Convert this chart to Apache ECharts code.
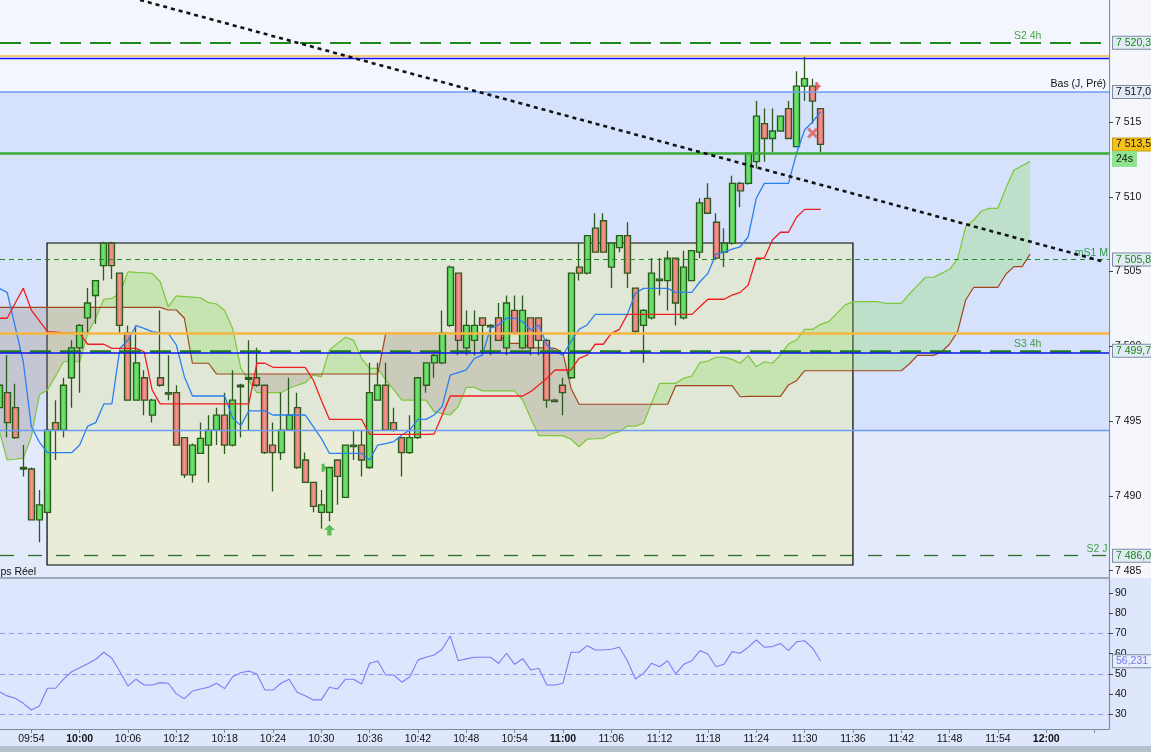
<!DOCTYPE html>
<html><head><meta charset="utf-8">
<script src="https://cdn.jsdelivr.net/npm/echarts@6/dist/echarts.min.js"></script>
<style>html,body{margin:0;padding:0;background:#dfe7fc;overflow:hidden}#c{width:1151px;height:752px}</style>
</head><body><div id="c"></div>
<script>
const FONT = '"Liberation Sans", Arial, sans-serif';
const FIRST_MINUTE = 590; // 09:50
// candles [open, high, low, close], one per minute from 09:50
const candles = [
[7495.9,7498.0,7495.5,7497.4],[7496.9,7499.4,7493.9,7494.9],[7495.9,7497.5,7493.8,7493.9],[7491.9,7493.4,7491.3,7491.8],
[7491.8,7491.9,7488.4,7488.4],[7488.4,7490.4,7486.9,7489.4],[7488.9,7494.5,7488.8,7494.4],[7494.9,7496.4,7492.4,7494.4],
[7494.4,7497.9,7493.9,7497.4],[7497.9,7500.4,7495.9,7499.9],[7499.9,7501.5,7496.9,7501.4],[7501.9,7503.9,7500.9,7502.9],
[7503.4,7504.4,7501.5,7504.4],[7505.4,7507.0,7504.4,7506.9],[7506.9,7507.0,7504.5,7505.4],[7504.9,7504.9,7500.9,7501.4],
[7500.9,7501.4,7496.4,7496.4],[7496.4,7501.4,7496.4,7498.9],[7497.9,7498.4,7495.4,7496.4],[7495.4,7496.5,7494.9,7496.4],
[7497.9,7502.4,7497.3,7497.4],[7496.9,7499.4,7496.4,7496.8],[7496.9,7497.4,7493.4,7493.4],[7493.9,7493.9,7491.2,7491.4],
[7491.4,7493.5,7490.9,7493.4],[7492.85,7494.9,7492.8,7493.85],[7493.4,7495.4,7490.9,7494.4],[7494.4,7495.9,7493.4,7495.4],
[7495.4,7496.9,7492.8,7493.4],[7493.4,7498.4,7493.3,7496.4],[7497.4,7497.5,7493.9,7497.3],[7497.9,7500.4,7494.4,7497.8],
[7497.9,7499.9,7497.3,7497.4],[7497.4,7497.4,7492.8,7492.9],[7493.4,7494.9,7490.3,7492.9],[7492.9,7496.9,7492.4,7494.4],
[7494.4,7497.9,7494.4,7495.4],[7495.9,7496.9,7491.8,7491.9],[7492.4,7492.9,7490.9,7490.9],[7490.9,7490.9,7488.9,7489.3],
[7488.9,7490.4,7487.8,7489.4],[7488.9,7491.9,7488.3,7491.9],[7492.4,7492.4,7489.4,7491.3],[7489.9,7493.4,7489.9,7493.4],
[7493.4,7494.4,7492.4,7493.3],[7493.4,7494.4,7491.3,7492.4],[7491.9,7498.9,7491.8,7496.9],[7496.4,7498.9,7496.4,7497.4],
[7497.4,7498.9,7494.4,7494.4],[7494.9,7495.9,7494.3,7494.4],[7493.9,7493.9,7491.3,7492.9],[7492.9,7495.4,7492.8,7493.9],
[7493.9,7497.9,7493.8,7497.9],[7497.4,7498.9,7496.9,7498.9],[7498.9,7499.5,7497.9,7499.4],[7498.9,7502.4,7498.8,7500.9],
[7501.4,7505.4,7501.3,7505.3],[7504.9,7504.9,7499.4,7500.4],[7499.9,7502.4,7499.4,7501.4],[7500.4,7502.4,7499.4,7501.4],
[7501.9,7501.9,7499.4,7501.4],[7501.4,7501.5,7499.4,7501.3],[7501.9,7502.9,7500.4,7500.4],[7499.9,7503.4,7499.4,7502.9],
[7502.4,7503.4,7500.8,7500.9],[7499.9,7503.4,7499.8,7502.4],[7501.9,7501.9,7499.4,7499.9],[7501.9,7501.9,7499.4,7500.4],
[7500.4,7500.5,7495.9,7496.4],[7496.4,7496.5,7496.3,7496.3],[7497.4,7497.9,7495.4,7496.9],[7497.9,7504.9,7497.8,7504.9],
[7505.3,7506.9,7504.4,7504.9],[7504.9,7507.4,7504.8,7507.4],[7507.9,7508.9,7506.3,7506.3],[7508.4,7508.9,7506.3,7506.3],
[7505.3,7506.9,7503.9,7506.9],[7506.6,7507.4,7506.3,7507.4],[7507.4,7508.3,7503.9,7504.9],[7503.9,7503.9,7500.9,7501.0],
[7501.4,7502.5,7498.9,7502.4],[7501.9,7505.9,7501.8,7504.9],[7504.4,7505.9,7503.4,7504.5],[7504.4,7506.4,7502.4,7505.9],
[7505.9,7505.9,7501.4,7502.9],[7501.9,7506.4,7501.8,7505.3],[7504.4,7506.4,7504.4,7506.4],[7506.3,7509.9,7505.9,7509.6],
[7509.9,7510.9,7508.9,7508.9],[7508.3,7508.9,7505.8,7505.9],[7506.3,7507.9,7505.3,7506.9],[7506.9,7511.4,7506.8,7510.9],
[7510.9,7511.0,7509.3,7510.4],[7510.9,7513.0,7510.8,7512.9],[7512.35,7516.4,7511.9,7515.4],[7514.9,7515.9,7512.35,7513.9],
[7513.9,7515.9,7513.0,7514.4],[7514.4,7515.4,7514.4,7515.4],[7515.9,7516.4,7513.9,7513.9],[7513.35,7518.4,7513.3,7517.4],
[7517.4,7519.4,7516.4,7517.9],[7517.4,7517.9,7514.9,7516.4],[7515.9,7515.9,7513.0,7513.5]
];
// Ichimoku lines, one value per minute from 09:50
const tenkan = [
7503.88,7503.61,7501.3,7498.97,7494.63,7493.6,7492.89,7492.89,7492.89,7492.89,
7493.40,7494.67,7494.90,7496.15,7496.15,7499.87,7500.42,7501.38,7501.2,7500.98,
7500.9,7500.87,7500.09,7497.97,7496.68,7496.68,7496.68,7496.68,7496.68,7495.19,
7494.70,7495.68,7495.68,7495.68,7495.41,7495.41,7495.41,7495.41,7495.41,7494.63,
7493.85,7492.85,7492.85,7492.85,7492.85,7492.85,7492.40,7493.40,7493.5,7493.63,
7494.07,7494.41,7495.12,7495.12,7495.41,7495.97,7498.08,7498.25,7498.42,7499.20,
7499.42,7501.21,7501.43,7501.88,7501.88,7501.65,7501.09,7501.43,7500.09,7499.64,
7499.42,7500.31,7501.14,7501.43,7502.14,7502.14,7502.14,7502.14,7502.14,7503.55,
7503.88,7503.88,7503.88,7503.88,7503.61,7503.61,7503.61,7504.32,7504.88,7506.17,
7506.29,7506.5,7506.66,7507.33,7509.90,7510.90,7510.90,7510.90,7510.90,7512.91,
7514.47,7515.02,7515.69];
const kijun = [
7501.88,7501.88,7502.9,7503.88,7502.43,7501.7,7500.98,7500.95,7500.9,7500.9,
7500.87,7500.14,7500.14,7500.14,7499.87,7499.87,7499.87,7499.87,7499.64,7497.08,
7496.15,7496.15,7496.15,7496.15,7496.15,7496.15,7496.15,7496.15,7496.15,7496.15,
7496.15,7496.15,7498.87,7498.87,7498.60,7498.60,7498.60,7498.60,7498.60,7497.75,
7496.4,7495.12,7495.12,7495.12,7495.12,7495.12,7494.12,7494.12,7494.12,7494.12,
7494.12,7494.12,7494.12,7494.12,7494.14,7495.4,7496.68,7496.68,7496.68,7496.68,
7496.68,7496.68,7496.68,7496.68,7496.68,7496.68,7496.97,7497.42,7497.86,7498.42,
7498.42,7498.42,7499.20,7499.42,7500.14,7500.14,7500.87,7501.14,7502.14,7502.14,
7502.14,7502.14,7502.14,7502.14,7502.14,7502.14,7502.14,7502.65,7503.15,7503.15,
7503.15,7503.43,7503.61,7504.10,7505.89,7505.89,7507.11,7507.63,7507.63,7508.63,
7509.16,7509.16,7509.16];
const spanA = [
7494.41,7492.40,7492.45,7492.52,7493.96,7496.75,7497.08,7498.0,7498.97,7498.97,
7498.97,7500.87,7501.88,7503.15,7503.21,7503.55,7504.99,7504.95,7504.92,7504.88,
7504.32,7502.65,7503.37,7503.33,7503.29,7503.25,7502.92,7502.83,7502.4,7501.2,
7498.54,7497.7,7496.90,7496.90,7496.90,7496.90,7497.20,7497.4,7497.57,7498.08,
7497.97,7499.76,7500.2,7500.61,7500.42,7499.2,7498.53,7498.53,7497.75,7497.1,
7496.41,7496.41,7496.41,7496.41,7495.63,7495.5,7495.41,7495.97,7497.26,7497.26,
7497.02,7497.02,7497.02,7497.02,7497.02,7496.41,7495.2,7494.03,7494.03,7494.03,
7494.01,7493.79,7493.29,7493.79,7493.82,7493.85,7494.14,7494.29,7494.67,7494.67,
7494.86,7496.2,7497.53,7497.53,7497.53,7497.86,7498.02,7498.91,7499.02,7499.27,
7499.27,7499.13,7498.87,7499.38,7498.64,7498.97,7498.87,7499.42,7500.16,7500.42,
7501.14,7501.14,7501.47,7501.65,7502.21,7502.76,7502.99,7502.99,7502.99,7502.99,
7502.88,7502.88,7502.88,7503.50,7504.06,7504.62,7504.62,7504.88,7505.15,7505.85,
7508.00,7508.45,7509.07,7509.23,7509.23,7510.61,7511.79,7512.08,7512.37];
const spanB = [
7502.61,7502.61,7502.61,7502.61,7502.61,7502.61,7502.61,7502.61,7502.61,7502.61,
7502.61,7502.61,7502.61,7502.61,7502.61,7502.61,7502.61,7502.61,7502.61,7502.61,
7502.61,7502.43,7502.43,7501.88,7498.87,7498.87,7498.87,7498.15,7498.15,7498.15,
7498.15,7498.15,7498.15,7498.15,7498.15,7498.15,7498.15,7498.15,7498.15,7498.15,
7498.15,7498.15,7498.15,7498.15,7498.15,7498.15,7498.15,7498.15,7500.87,7500.87,
7500.87,7500.87,7500.87,7500.87,7500.87,7500.87,7500.87,7500.87,7500.87,7500.87,
7500.87,7500.87,7500.87,7500.20,7500.20,7500.20,7499.91,7499.9,7499.9,7499.87,
7499.54,7497.20,7496.13,7496.13,7496.13,7496.13,7496.13,7496.13,7496.13,7496.13,
7496.13,7496.13,7496.13,7496.13,7497.37,7497.37,7497.37,7497.37,7497.37,7497.37,
7497.37,7497.37,7496.63,7496.66,7496.66,7496.66,7496.66,7496.66,7497.42,7497.70,
7498.37,7498.37,7498.37,7498.37,7498.37,7498.37,7498.37,7498.37,7498.37,7498.37,
7498.37,7498.37,7498.37,7498.82,7499.40,7499.40,7499.40,7499.62,7500.16,7500.98,
7503.10,7503.95,7503.95,7503.95,7503.95,7504.84,7505.33,7505.33,7506.17];
// RSI, one value per minute from 09:50
const rsi = [
41.1,39.0,37.8,35.3,32.0,34.0,42.8,42.8,47.3,51.0,
53.0,55.0,57.2,60.7,57.7,51.0,43.9,47.3,44.4,44.4,
45.6,45.3,40.0,37.6,41.4,42.4,43.3,45.3,42.6,48.5,
50.5,51.4,49.9,41.9,41.9,45.3,47.3,40.8,39.1,37.0,
37.0,43.3,42.4,47.3,47.3,44.9,55.2,56.3,49.4,49.4,
45.8,48.5,56.9,58.2,59.3,62.2,68.8,56.5,57.4,58.2,
58.2,58.2,55.2,60.2,54.7,57.5,51.9,52.7,44.4,44.4,
45.3,60.7,60.7,64.0,61.8,61.8,62.2,63.2,56.5,47.4,
50.2,55.2,53.5,56.5,49.9,54.7,56.5,61.5,59.8,53.5,
54.7,61.0,60.2,63.2,66.8,63.2,63.5,65.1,61.5,65.9,
66.4,62.7,56.231];
const timeLabels = [594,600,606,612,618,624,630,636,642,648,654,660,666,672,678,684,690,696,702,708,714,720];
const timeTicks = [594,600,606,612,618,624,630,636,642,648,654,660,666,672,678,684,690,696,702,708,714,720,726];
const priceTicks = [7485,7490,7495,7500,7505,7510,7515];
const rsiTicks = [30,40,50,60,70,80,90];
const rsiLevels = [70,50,30];
const trendline = [[607.5,7523.16],[727.3,7505.64]];
const rangeBox = [[595.95,7506.91],[696.0,7485.38]];
const levelS2h4 = 7520.3, levelOrangeTop = 7519.43, levelBlueTop = 7519.26, levelBasJ = 7517.0;
const lastPrice = 7513.5, levelGreen = 7512.93, levelMS1M = 7505.8, levelOrangeMid = 7500.9;
const levelS3h4 = 7499.7, levelBlueMid = 7499.58, levelLightBlue = 7494.39, levelS2J = 7486.0;
const arrowUp = [[631,7487.72]], crossMark = [[691,7514.26]], redFlag = [[691.7,7517.4]], greenFlag = [[630.4,7491.89]];

function fmt(v, d){const s=v.toFixed(d);const p=s.split('.');return p[0].replace(/\B(?=(\d{3})+(?!\d))/g,' ')+(p[1]?','+p[1]:'');}
function hhmm(m){const h=Math.floor(m/60),mm=Math.round(m%60);return String(h).padStart(2,'0')+':'+String(mm).padStart(2,'0');}
function boxLabel(text,color,bg,border){return {show:true,position:'end',distance:4,formatter:text,color:color,backgroundColor:bg||'#e3eaf6',borderColor:border||'#7b8ca0',borderWidth:1,padding:[1,3,0,3],fontSize:10.5,fontFamily:FONT};}

const candleData = candles.map((c,i)=>[FIRST_MINUTE+i,c[0],c[3],c[2],c[1]]);
const ser = arr => arr.map((v,i)=>[FIRST_MINUTE+i,v]);
const XMIN = 590.11, XMAX = 727.79;

function cloudRender(params, api){
  if(params.dataIndex!==0) return;
  const polys=[];let cur=null;
  const push=(s,p0,p1)=>{
    if(cur&&cur.s===s){cur.top.push([p1[0],p1[1]]);cur.bot.push([p1[0],p1[2]]);}
    else{if(cur)polys.push(cur);cur={s:s,top:[[p0[0],p0[1]],[p1[0],p1[1]]],bot:[[p0[0],p0[2]],[p1[0],p1[2]]]};}
  };
  for(let i=0;i<spanA.length-1;i++){
    const m1=FIRST_MINUTE+i,m2=m1+1,a1=spanA[i],b1=spanB[i],a2=spanA[i+1],b2=spanB[i+1];
    const d1=a1-b1,d2=a2-b2;
    if(d1*d2<0){const t=d1/(d1-d2);const mc=m1+t,vc=a1+t*(a2-a1);
      push(d1>=0,[m1,a1,b1],[mc,vc,vc]);push(d2>=0,[mc,vc,vc],[m2,a2,b2]);}
    else push((d1+d2)>=0,[m1,a1,b1],[m2,a2,b2]);
  }
  if(cur)polys.push(cur);
  return {type:'group',children:polys.map(p=>({type:'polygon',shape:{points:p.top.concat(p.bot.slice().reverse()).map(q=>api.coord(q))},
    style:{fill:p.s?'rgba(140,222,100,0.32)':'rgba(160,144,130,0.32)'}}))};
}

const chart = echarts.init(document.getElementById('c'),null,{renderer:'canvas'});
const lineMark=(v,color,width,type,extra)=>Object.assign({yAxis:v,lineStyle:{color:color,width:width,type:type||'solid'},label:{show:false}},extra||{});
const hidden=(v,label)=>({yAxis:v,lineStyle:{color:'rgba(0,0,0,0)',width:1},label:label});
chart.setOption({
  animation:false,
  backgroundColor:'#dfe7fc',
  textStyle:{fontFamily:FONT},
  graphic:[
    {type:'rect',z:-10,shape:{x:1109,y:0,width:42,height:578},style:{fill:'#f5f7fd'}},
    {type:'rect',z:100,shape:{x:0,y:746,width:1151,height:6},style:{fill:'#b3c1cc'}},
    {type:'text',z:100,x:36,y:567,style:{text:'Temps Réel',textAlign:'right',font:'10.5px '+FONT,fill:'#111'}}
  ],
  grid:[
    {left:0,right:42,top:0,height:578,show:true,backgroundColor:'#e3eafc',borderWidth:0},
    {left:0,right:42,top:579,height:150,show:true,backgroundColor:'#dde6fd',borderWidth:0}
  ],
  xAxis:[
    {gridIndex:0,type:'value',min:XMIN,max:XMAX,axisLabel:{show:false},axisTick:{show:false},splitLine:{show:false},
     axisLine:{show:true,onZero:false,lineStyle:{color:'#8796a7',width:1.5}}},
    {gridIndex:1,type:'value',min:XMIN,max:XMAX,splitLine:{show:false},
     axisLine:{show:true,onZero:false,lineStyle:{color:'#7c8c9c',width:1.2}},
     axisTick:{show:true,customValues:timeTicks,length:4,lineStyle:{color:'#7c8c9c'}},
     axisLabel:{customValues:timeLabels,margin:5,fontSize:10.5,color:'#111',fontFamily:FONT,
       formatter:v=>{const s=hhmm(v);return v%60===0?'{b|'+s+'}':s;},
       rich:{b:{fontWeight:'bold',fontSize:10.5,color:'#111',fontFamily:FONT}}}}
  ],
  yAxis:[
    {gridIndex:0,type:'value',position:'right',min:7484.51,max:7523.16,splitLine:{show:false},
     axisLine:{show:true,lineStyle:{color:'#7f8fa0',width:1.2}},
     axisTick:{show:true,customValues:priceTicks,length:4,lineStyle:{color:'#444'}},
     axisLabel:{customValues:priceTicks,margin:6,fontSize:10.5,color:'#111',fontFamily:FONT,formatter:v=>fmt(v,0)}},
    {gridIndex:1,type:'value',position:'right',min:22.54,max:97.11,splitLine:{show:false},
     axisLine:{show:true,lineStyle:{color:'#7f8fa0',width:1.2}},
     axisTick:{show:true,customValues:rsiTicks,length:4,lineStyle:{color:'#444'}},
     axisLabel:{customValues:rsiTicks,margin:6,fontSize:10.5,color:'#111',fontFamily:FONT}}
  ],
  series:[
    {name:'bands',type:'line',data:[],xAxisIndex:0,yAxisIndex:0,z:0,silent:true,
     markArea:{silent:true,data:[
       [{yAxis:levelLightBlue,itemStyle:{color:'#d6e1fb'}},{yAxis:levelBasJ}],
       [{yAxis:levelBasJ,itemStyle:{color:'#f4f6fe'}},{yAxis:7523.16}]
     ]}},
    {name:'cloud',type:'custom',xAxisIndex:0,yAxisIndex:0,z:1,silent:true,clip:true,data:[[FIRST_MINUTE,spanA[0]]],renderItem:cloudRender},
    {name:'spanA',type:'line',data:ser(spanA),z:1,symbol:'none',silent:true,lineStyle:{color:'#7cc83a',width:1.2}},
    {name:'spanB',type:'line',data:ser(spanB),z:1,symbol:'none',silent:true,lineStyle:{color:'#a2461f',width:1.2}},
    {name:'box',type:'line',data:[],z:2,silent:true,
     markArea:{silent:true,data:[[{coord:rangeBox[0],itemStyle:{color:'rgba(240,240,170,0.45)',borderColor:'#000',borderWidth:1.2}},{coord:rangeBox[1]}]]}},
    {name:'prix',type:'candlestick',data:candleData,encode:{x:0,y:[1,2,3,4]},z:3,barWidth:6.5,silent:true,
     itemStyle:{
       color:{type:'linear',x:0,y:0,x2:1,y2:0,colorStops:[{offset:0,color:'#3cc63c'},{offset:0.45,color:'#74e274'},{offset:1,color:'#44cc44'}]},
       color0:{type:'linear',x:0,y:0,x2:1,y2:0,colorStops:[{offset:0,color:'#de5e5a'},{offset:0.5,color:'#f29591'},{offset:1,color:'#e46c68'}]},
       borderColor:'#2b5b1c',borderColor0:'#2b5b1c',borderWidth:1.3}},
    {name:'tenkan',type:'line',data:ser(tenkan),z:4,symbol:'none',silent:true,lineStyle:{color:'#2a7ff2',width:1.3}},
    {name:'kijun',type:'line',data:ser(kijun),z:4,symbol:'none',silent:true,lineStyle:{color:'#f01e1e',width:1.3}},
    {name:'levels',type:'line',data:[],z:5,silent:true,
     markLine:{silent:true,symbol:['none','none'],animation:false,data:[
       lineMark(levelS2h4,'#1f8a1f',2,[21,9],{label:boxLabel(fmt(levelS2h4,1),'#138a13')}),
       lineMark(levelOrangeTop,'#f6b84c',1.7),
       lineMark(levelBlueTop,'#1414f5',1.3),
       lineMark(levelBasJ,'#6f9cf0',1.5,'solid',{label:{show:true,position:'insideEndTop',distance:3,formatter:'Bas (J, Pré)',color:'#111',fontSize:10.5,fontFamily:FONT}}),
       hidden(levelBasJ,boxLabel(fmt(levelBasJ,1),'#111')),
       lineMark(levelGreen,'#3aab34',2.5),
       lineMark(levelMS1M,'#1b8f1b',1.2,[5,4],{label:{show:true,position:'insideEndTop',distance:1,formatter:'mS1 M',color:'#2a9a4a',fontSize:10.5,fontFamily:FONT}}),
       hidden(levelMS1M,boxLabel(fmt(levelMS1M,1),'#138a13')),
       lineMark(levelOrangeMid,'#f7b640',2.5),
       lineMark(levelS3h4,'#1f7a1f',2.6,[21,9]),
       lineMark(levelBlueMid,'#0a14f0',1.5),
       hidden(levelS3h4,boxLabel(fmt(levelS3h4,1),'#138a13')),
       lineMark(levelLightBlue,'#6a9cf2',1.3),
       lineMark(levelS2J,'#2a6e2a',1.3,[14,14],{label:boxLabel(fmt(levelS2J,1),'#138a13')}),
       hidden(lastPrice,boxLabel(fmt(lastPrice,1),'#111','#f6c21a','#c49a10')),
       hidden(lastPrice-0.97,Object.assign(boxLabel('24s','#111','#8fe38f','#8fe38f'),{padding:[2,3,1,3]}))
     ]}},
    {name:'lvlLabels',type:'scatter',z:5,silent:true,symbolSize:1,itemStyle:{color:'rgba(0,0,0,0)'},
     label:{show:true,position:'top',distance:1,formatter:p=>p.name,color:'#1a8a1a',fontSize:10.5,fontFamily:FONT},
     data:[{name:'S2 4h',value:[717.7,levelS2h4]},{name:'S3 4h',value:[717.7,levelS3h4]},{name:'S2 J',value:[726.3,levelS2J]}]},
    {name:'trend',type:'line',data:trendline,z:6,symbol:'none',silent:true,lineStyle:{color:'#111',width:2.6,type:[4,4]}},
    {name:'arrow',type:'scatter',data:arrowUp,z:7,silent:true,symbol:'path://M5,0 L10,5 L7,5 L7,10 L3,10 L3,5 L0,5 Z',symbolSize:[11,11],itemStyle:{color:'#37b440'}},
    {name:'cross',type:'scatter',data:crossMark,z:7,silent:true,symbol:'path://M0,2 L2,0 L5,3 L8,0 L10,2 L7,5 L10,8 L8,10 L5,7 L2,10 L0,8 L3,5 Z',symbolSize:[11,11],itemStyle:{color:'#e05a5a'}},
    {name:'flagR',type:'scatter',data:redFlag,z:7,silent:true,symbol:'path://M0,0 L4,0 L4,8 L0,8 Z M4,2 L8,4 L4,6 Z',symbolSize:[6,8],itemStyle:{color:'#e04040'}},
    {name:'flagG',type:'scatter',data:greenFlag,z:7,silent:true,symbol:'path://M0,0 L4,0 L4,8 L0,8 Z M4,2 L8,4 L4,6 Z',symbolSize:[6,8],itemStyle:{color:'#2fb030'}},
    {name:'RSI',type:'line',data:ser(rsi),xAxisIndex:1,yAxisIndex:1,z:4,symbol:'none',silent:true,lineStyle:{color:'#7b7df6',width:1.1},
     markLine:{silent:true,symbol:['none','none'],animation:false,data:[
       ...rsiLevels.map(v=>({yAxis:v,lineStyle:{color:'#9598ee',width:1,type:[5,4]},label:{show:false}})),
       {yAxis:rsi[rsi.length-1],lineStyle:{color:'rgba(0,0,0,0)',width:1},label:boxLabel(fmt(rsi[rsi.length-1],3),'#7476f2','#e8eefb')}
     ]}}
  ]
});
</script></body></html>
